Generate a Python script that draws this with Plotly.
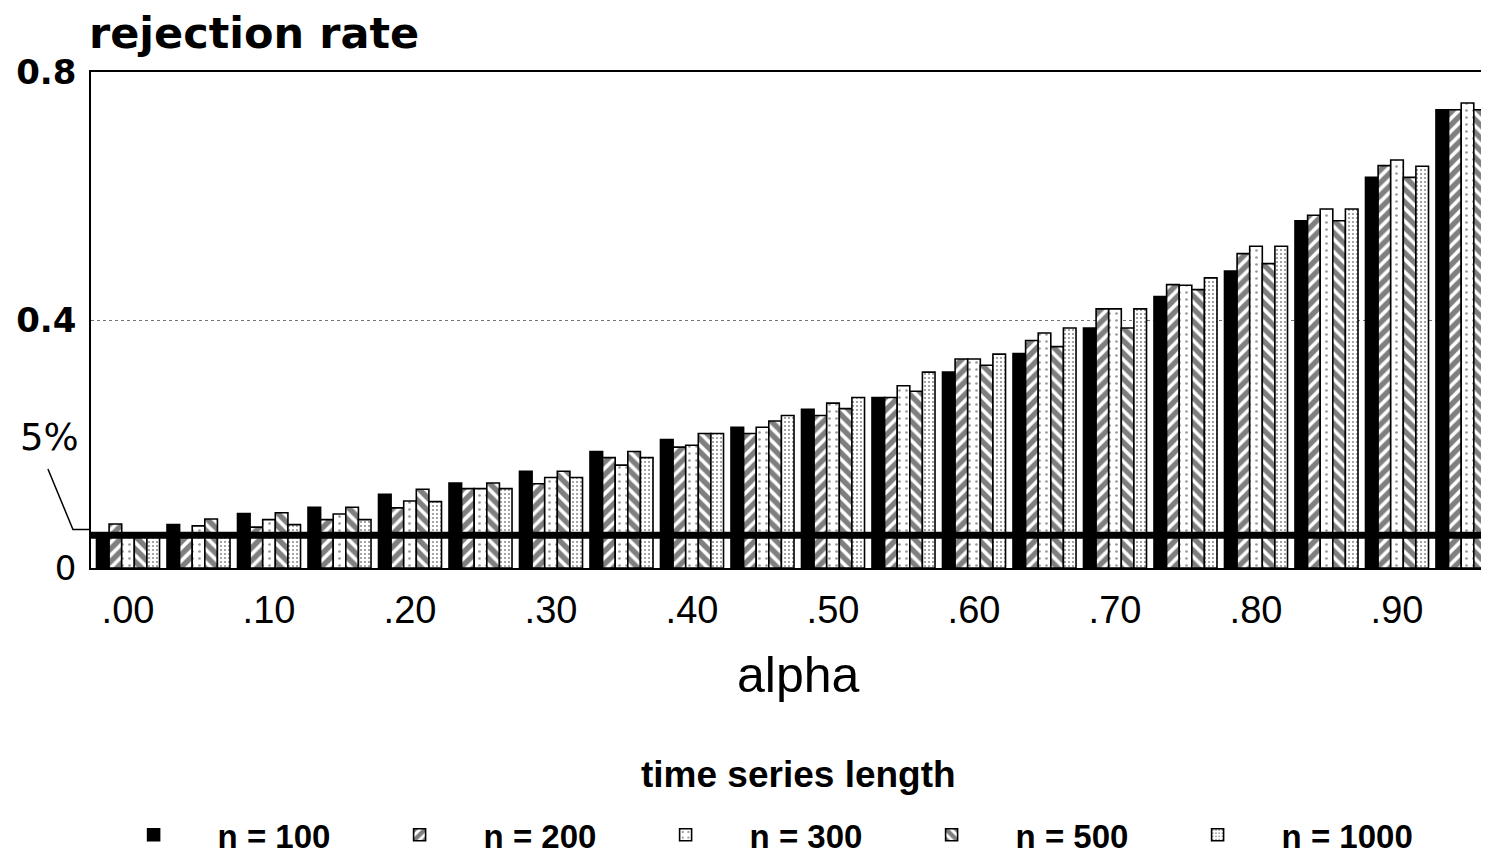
import plotly.graph_objects as go

# ---- data ----
alphas = [0.00, 0.05, 0.10, 0.15, 0.20, 0.25, 0.30, 0.35, 0.40, 0.45,
          0.50, 0.55, 0.60, 0.65, 0.70, 0.75, 0.80, 0.85, 0.90, 0.95]
tick_vals = [0.0, 0.1, 0.2, 0.3, 0.4, 0.5, 0.6, 0.7, 0.8, 0.9]
tick_labels = [".00", ".10", ".20", ".30", ".40", ".50", ".60", ".70", ".80", ".90"]

n100 = [0.055, 0.070, 0.088, 0.098, 0.119, 0.137, 0.156, 0.188, 0.207, 0.227,
        0.256, 0.275, 0.316, 0.346, 0.387, 0.438, 0.479, 0.560, 0.630, 0.739]
n200 = [0.071, 0.052, 0.066, 0.078, 0.097, 0.128, 0.136, 0.178, 0.195, 0.217,
        0.246, 0.275, 0.337, 0.367, 0.418, 0.457, 0.507, 0.569, 0.649, 0.739]
n300 = [0.055, 0.068, 0.078, 0.087, 0.108, 0.128, 0.146, 0.166, 0.198, 0.227,
        0.266, 0.294, 0.337, 0.379, 0.418, 0.456, 0.519, 0.579, 0.658, 0.750]
n500 = [0.055, 0.079, 0.089, 0.098, 0.127, 0.137, 0.156, 0.188, 0.217, 0.237,
        0.257, 0.285, 0.327, 0.357, 0.387, 0.449, 0.491, 0.560, 0.630, 0.739]
n1000 = [0.055, 0.052, 0.070, 0.078, 0.107, 0.128, 0.146, 0.178, 0.217, 0.246,
         0.275, 0.316, 0.345, 0.387, 0.418, 0.468, 0.519, 0.579, 0.648, 0.757]

series_names = ["n = 100", "n = 200", "n = 300", "n = 500", "n = 1000"]
five_pct = 0.053
y_ticks = [0, 0.4, 0.8]
y_ticktext = ["0", "<b>0.4</b>", "<b>0.8</b>"]

# ---- styles ----
outline = dict(color="black", width=1.6)
styles = [
    dict(color="black", line=outline),
    dict(color="white", line=outline,
         pattern=dict(shape="/", fgcolor="black", bgcolor="white", size=9, solidity=0.6)),
    dict(color="white", line=outline,
         pattern=dict(shape=".", fgcolor="#333", bgcolor="white", size=7, solidity=0.12)),
    dict(color="white", line=outline,
         pattern=dict(shape="\\", fgcolor="black", bgcolor="white", size=9, solidity=0.6)),
    dict(color="white", line=outline,
         pattern=dict(shape=".", fgcolor="#222", bgcolor="white", size=4, solidity=0.22)),
]

fig = go.Figure()
for name, vals, st in zip(series_names, [n100, n200, n300, n500, n1000], styles):
    fig.add_trace(go.Bar(x=alphas, y=vals, name=name, marker=st))

fig.update_layout(
    width=1481, height=855,
    margin=dict(l=83, r=0, t=64, b=295),
    paper_bgcolor="white", plot_bgcolor="white",
    barmode="group", bargap=0.106, bargroupgap=0,
    showlegend=True,
    legend=dict(
        orientation="h", x=-0.001, xanchor="left", y=-0.538, yanchor="middle",
        font=dict(family="Liberation Sans", size=33, color="black", weight="bold"),
        entrywidth=133, itemwidth=118,
    ),
    xaxis=dict(
        range=[-0.02625, 0.96525], tickvals=tick_vals, ticktext=tick_labels,
        showline=True, linecolor="black", linewidth=1.5, mirror=True,
        ticks="", showgrid=False, zeroline=False,
        tickfont=dict(family="Liberation Sans", size=38, color="black"),
        ticklabelstandoff=8,
    ),
    yaxis=dict(
        range=[0, 0.8], tickvals=y_ticks, ticktext=y_ticktext,
        showline=True, linecolor="black", linewidth=1.5,
        showgrid=True, gridcolor="#777", griddash="dot", gridwidth=1,
        zeroline=False, ticks="",
        tickfont=dict(family="DejaVu Sans", size=34, color="black"),
        ticklabelstandoff=6,
    ),
    shapes=[
        dict(type="line", xref="paper", x0=0, x1=1, yref="y", y0=five_pct, y1=five_pct,
             line=dict(color="black", width=7), layer="above"),
        dict(type="path", xref="paper", yref="paper",
             path="M -0.0308,0.1996 L -0.0129,0.0776 L -0.0014,0.0776",
             line=dict(color="black", width=1.5)),
    ],
    annotations=[
        dict(text="rejection rate", xref="paper", yref="paper", x=-0.003, y=1.0786,
             xanchor="left", yanchor="middle", showarrow=False,
             font=dict(family="DejaVu Sans", size=43, color="black", weight="bold")),
        dict(text="5%", xref="paper", yref="paper", x=-0.030, y=0.263,
             xanchor="center", yanchor="middle", showarrow=False,
             font=dict(family="DejaVu Sans", size=37, color="black")),
        dict(text="alpha", xref="paper", yref="paper", x=0.506, y=-0.2157,
             xanchor="center", yanchor="middle", showarrow=False,
             font=dict(family="Liberation Sans", size=50, color="black")),
        dict(text="time series length", xref="paper", yref="paper", x=0.506, y=-0.4173,
             xanchor="center", yanchor="middle", showarrow=False,
             font=dict(family="Liberation Sans", size=37, color="black", weight="bold")),
    ],
)

fig.write_html("out.html")
